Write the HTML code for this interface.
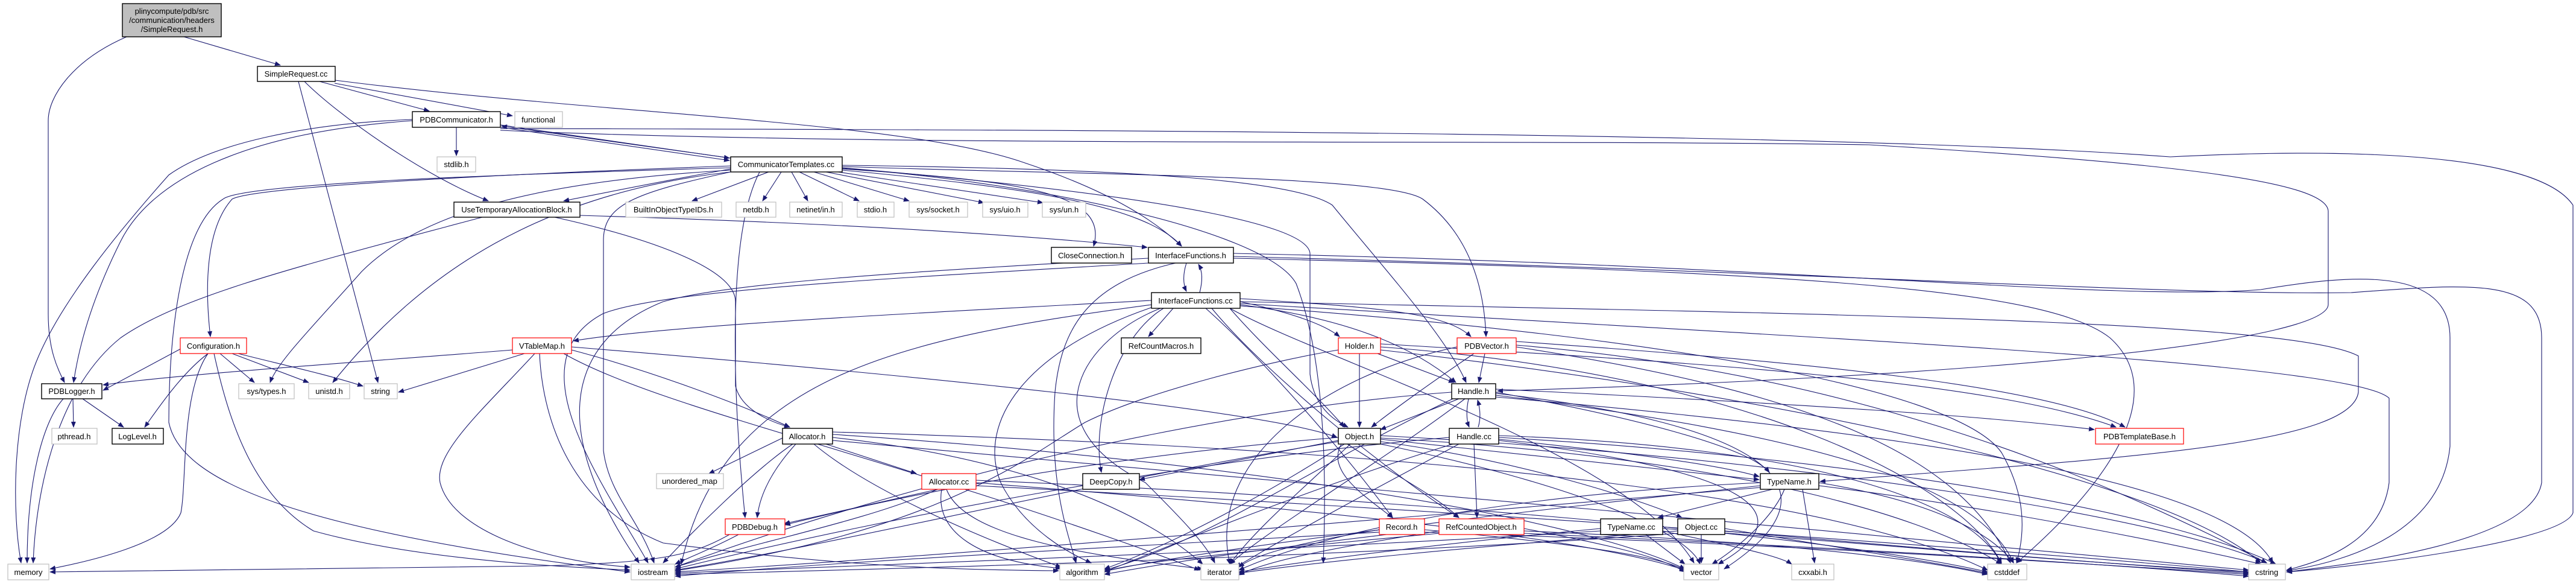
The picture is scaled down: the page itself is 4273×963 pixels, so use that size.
<!DOCTYPE html>
<html><head><meta charset="utf-8"><style>
html,body{margin:0;padding:0;background:#fff;}
svg{display:block;}
text{font-family:"Liberation Sans",sans-serif;font-size:13px;fill:#000;text-anchor:middle;}
.e{fill:none;stroke:#191970;stroke-width:1.1;marker-end:url(#a);}
.n{fill:#fff;stroke:#000;stroke-width:1.4;}
.r{fill:#fff;stroke:#ff0000;stroke-width:1.2;}
.g{fill:#fff;stroke:#bfbfbf;stroke-width:1.2;}
</style></head><body>
<svg width="4273" height="963" viewBox="0 0 4273 963" xmlns="http://www.w3.org/2000/svg">
<defs><marker id="a" markerWidth="10" markerHeight="8" refX="9" refY="4" orient="auto" markerUnits="userSpaceOnUse"><path d="M0,0 L10,4 L0,8 z" fill="#191970"/></marker></defs>
<g>
<!-- top -->
<path class="e" d="M305,61 L465,108"/>
<path class="e" d="M210,61 C120,100 80,160 80,200 L80,520 C80,580 95,610 107,634"/>
<path class="e" d="M530,135 L712,184"/>
<path class="e" d="M555,138 L850,192"/>
<path class="e" d="M495,135 L627,634"/>
<path class="e" d="M505,135 C560,190 700,290 810,333"/>
<path class="e" d="M556,133 C1000,190 1500,200 1700,270 C1850,320 1920,370 1960,408"/>
<path class="e" d="M757,211 L757,258"/>
<path class="e" d="M684,200 C400,220 250,300 200,400 C150,500 130,580 122,634"/>
<path class="e" d="M684,198 C500,205 350,240 280,290 C200,380 100,500 60,600 C20,700 20,850 35,933"/>
<path class="e" d="M830,207 L1210,262"/>
<path class="e" d="M830,211 L1210,266"/>
<path class="e" d="M1212,262 L832,209"/>
<path class="e" d="M830,213 C1500,215 3000,215 3600,260 C3800,250 4200,240 4268,340 L4268,850 C4250,900 3900,940 3793,948"/>
<path class="e" d="M830,216 C1500,245 2500,230 3100,240 C3600,270 3860,300 3862,350 L3862,505 C3860,560 3400,620 2484,648"/>
<!-- CommT -->
<path class="e" d="M1275,285 L1148,333"/>
<path class="e" d="M1296,285 L1265,333"/>
<path class="e" d="M1313,285 L1340,333"/>
<path class="e" d="M1326,285 L1425,333"/>
<path class="e" d="M1350,285 L1508,333"/>
<path class="e" d="M1370,285 L1632,336"/>
<path class="e" d="M1390,285 L1730,336"/>
<path class="e" d="M1397,280 C1700,300 1840,320 1814,408"/>
<path class="e" d="M1397,282 C1700,310 1900,340 1960,408"/>
<path class="e" d="M1212,280 C1100,300 1000,320 935,333"/>
<path class="e" d="M1212,275 C800,290 420,310 385,330 C340,380 340,480 349,558"/>
<path class="e" d="M1212,278 C800,290 400,305 370,330 C290,380 280,600 280,700 C300,800 500,880 1045,948"/>
<path class="e" d="M1212,282 C900,300 700,350 600,450 C520,540 460,600 448,634"/>
<path class="e" d="M1212,285 C900,320 700,450 552,634"/>
<path class="e" d="M1212,285 C1050,320 1000,340 1001,400 L1001,747 C1010,820 1060,860 1085,933"/>
<path class="e" d="M1397,276 C1800,290 2300,290 2360,330 C2440,390 2462,480 2465,558"/>
<path class="e" d="M1397,274 C1900,280 2150,300 2210,340 C2300,450 2400,560 2432,634"/>
<path class="e" d="M1397,278 C2000,330 2170,380 2173,420 L2173,620 C2180,680 2220,700 2236,708"/>
<path class="e" d="M1397,279 C1700,300 2100,380 2150,470 C2200,600 2200,800 2195,933"/>
<path class="e" d="M1260,285 C1200,400 1220,700 1236,858"/>
<!-- UTAB -->
<path class="e" d="M800,360 C500,440 300,490 200,560 C100,640 60,800 55,933"/>
<path class="e" d="M962,357 C1400,370 1700,390 1903,410"/>
<path class="e" d="M920,360 C1100,400 1220,450 1220,500 L1220,640 C1230,680 1280,700 1310,708"/>
<!-- IFh / IFcc -->
<path class="e" d="M1968,436 C1962,455 1962,470 1968,483"/>
<path class="e" d="M1990,485 C1995,465 1995,450 1988,438"/>
<path class="e" d="M2046,420 C3000,440 3500,500 3750,480 C3900,455 4064,440 4064,560 L4064,740 C4050,880 3900,930 3793,946"/>
<path class="e" d="M2046,425 C3000,450 3600,490 3900,485 C4100,470 4216,460 4216,560 L4216,800 C4200,900 3900,935 3793,948"/>
<path class="e" d="M2046,428 C3000,450 3400,480 3500,560 C3600,650 3500,800 3345,933"/>
<path class="e" d="M1905,428 C1500,450 1200,470 1100,500 C950,560 900,700 1060,933"/>
<path class="e" d="M1950,436 C1800,470 1760,550 1750,650 C1740,800 1770,880 1785,933"/>
<path class="e" d="M1905,436 C1500,460 1100,480 1000,520 C850,600 1000,800 1075,933"/>
<path class="e" d="M1946,511 L1905,558"/>
<path class="e" d="M1910,498 C1500,520 1100,540 951,565"/>
<path class="e" d="M2057,500 C2150,520 2200,540 2222,558"/>
<path class="e" d="M2057,495 C2300,510 2400,520 2440,558"/>
<path class="e" d="M2057,505 C2250,530 2350,580 2415,634"/>
<path class="e" d="M2040,511 C2100,580 2180,650 2230,708"/>
<path class="e" d="M1930,511 C1850,560 1810,700 1827,783"/>
<path class="e" d="M2000,511 C2100,600 2230,750 2310,858"/>
<path class="e" d="M2010,511 C2100,620 2300,780 2420,858"/>
<path class="e" d="M1925,511 C1800,560 1700,700 1900,800 C1950,850 2000,900 2015,933"/>
<path class="e" d="M1915,508 C1700,580 1620,700 1660,800 C1700,880 1780,920 1810,933"/>
<path class="e" d="M2057,500 C3000,520 3800,530 3912,590 L3912,650 C3900,740 3500,760 3019,798"/>
<path class="e" d="M2057,503 C3000,560 3900,600 3963,660 L3963,800 C3950,900 3850,930 3793,945"/>
<path class="e" d="M2057,507 C2800,560 3250,650 3320,750 C3360,820 3360,880 3345,933"/>
<path class="e" d="M1910,505 C1500,560 1200,620 1130,935"/>
<path class="e" d="M2040,511 C2200,600 2700,750 2810,933"/>
<!-- Config -->
<path class="e" d="M300,578 L171,647"/>
<path class="e" d="M345,586 C300,620 260,680 240,708"/>
<path class="e" d="M365,586 L422,634"/>
<path class="e" d="M385,586 L512,634"/>
<path class="e" d="M395,586 C470,605 540,620 602,640"/>
<path class="e" d="M345,586 C300,650 310,800 300,850 C280,900 150,930 83,943"/>
<path class="e" d="M355,586 C380,700 420,820 520,880 C700,930 950,940 1045,945"/>
<!-- VTable -->
<path class="e" d="M850,580 C600,600 300,620 171,638"/>
<path class="e" d="M870,586 L661,650"/>
<path class="e" d="M948,580 C1100,620 1250,680 1310,708"/>
<path class="e" d="M887,586 C800,680 720,750 730,800 C750,880 900,930 1045,940"/>
<path class="e" d="M895,586 C900,700 950,840 1100,900 C1400,940 1600,945 1756,946"/>
<path class="e" d="M935,586 C1100,680 1500,760 1990,945"/>
<path class="e" d="M948,575 C1500,620 2100,680 2218,725"/>
<!-- PDBLogger -->
<path class="e" d="M121,661 L122,708"/>
<path class="e" d="M137,661 L205,708"/>
<path class="e" d="M105,661 C70,700 45,800 45,933"/>
<!-- Allocator -->
<path class="e" d="M1300,725 L1176,785"/>
<path class="e" d="M1370,736 L1520,785"/>
<path class="e" d="M1320,736 C1280,780 1260,820 1256,858"/>
<path class="e" d="M1315,736 C1250,780 1150,880 1100,933"/>
<path class="e" d="M1350,736 C1450,820 1650,900 1760,940"/>
<path class="e" d="M1381,725 C1700,760 1900,850 1995,935"/>
<path class="e" d="M1381,720 C2000,760 2600,850 2795,943"/>
<path class="e" d="M1381,716 C2200,740 3000,800 3297,945"/>
<path class="e" d="M1381,730 C2000,780 3000,880 3730,945"/>
<path class="e" d="M1556,811 L1301,868"/>
<path class="e" d="M1555,811 C1450,860 1250,900 1120,940"/>
<path class="e" d="M1562,811 C1550,880 1620,930 1760,942"/>
<path class="e" d="M1570,811 C1600,890 1800,920 1995,943"/>
<path class="e" d="M1619,800 C2000,830 2600,880 2795,945"/>
<path class="e" d="M1619,796 C2200,820 3000,880 3297,948"/>
<path class="e" d="M1619,805 C2300,840 3200,900 3730,948"/>
<path class="e" d="M1225,886 C1180,910 1140,925 1120,935"/>
<path class="e" d="M1210,886 C1150,920 1100,932 900,938 L83,948"/>
<!-- Holder / PDBVector -->
<path class="e" d="M2255,586 L2255,708"/>
<path class="e" d="M2285,586 L2412,634"/>
<path class="e" d="M2290,570 C2800,600 3300,630 3510,708"/>
<path class="e" d="M2290,575 C2900,620 3250,800 3320,933"/>
<path class="e" d="M2290,580 C3000,660 3600,800 3750,933"/>
<path class="e" d="M2220,580 C2100,600 1900,650 1800,700 C1700,760 1560,880 1120,946"/>
<path class="e" d="M2463,586 L2453,634"/>
<path class="e" d="M2445,586 C2380,630 2310,680 2275,708"/>
<path class="e" d="M2515,566 C3000,600 3400,640 3525,708"/>
<path class="e" d="M2515,572 C3100,620 3500,800 3760,933"/>
<path class="e" d="M2515,575 C3000,650 3250,750 3335,933"/>
<path class="e" d="M2417,575 C2200,620 2000,760 2040,935"/>
<!-- Handle.h -->
<path class="e" d="M2436,661 C2432,680 2432,695 2437,708"/>
<path class="e" d="M2452,708 C2456,695 2456,680 2451,663"/>
<path class="e" d="M2420,661 L2290,712"/>
<path class="e" d="M2481,645 C3000,670 3300,690 3474,712"/>
<path class="e" d="M2481,650 C2700,690 2900,740 2935,783"/>
<path class="e" d="M2481,652 C2900,700 3080,800 2860,943"/>
<path class="e" d="M2481,655 C3000,720 3280,800 3340,933"/>
<path class="e" d="M2481,658 C3200,720 3700,800 3770,933"/>
<path class="e" d="M2430,661 C2300,760 2100,880 2040,935"/>
<path class="e" d="M2408,650 C2000,680 1500,800 1120,940"/>
<path class="e" d="M2410,661 C2200,760 2000,900 1832,945"/>
<!-- Handle.cc -->
<path class="e" d="M2445,736 L2450,858"/>
<path class="e" d="M2486,728 C2700,750 2850,770 2918,790"/>
<path class="e" d="M2486,722 C3000,740 3270,830 3320,935"/>
<path class="e" d="M2486,725 C3100,760 3600,850 3775,935"/>
<path class="e" d="M2486,730 C2900,780 3000,850 2850,935"/>
<path class="e" d="M2420,736 C2300,800 2150,880 2050,940"/>
<path class="e" d="M2404,725 C2000,760 1500,850 1120,943"/>
<path class="e" d="M2410,736 C2200,800 1950,900 1832,948"/>
<!-- Object.h -->
<path class="e" d="M2290,728 L2918,795"/>
<path class="e" d="M2290,732 C2500,760 2700,820 2790,858"/>
<path class="e" d="M2220,730 L1890,795"/>
<path class="e" d="M2225,736 C2200,780 2260,820 2310,858"/>
<path class="e" d="M2235,736 C2300,780 2380,820 2420,858"/>
<path class="e" d="M2220,725 C1800,760 1500,820 1302,870"/>
<path class="e" d="M2220,732 C1800,800 1400,900 1120,945"/>
<path class="e" d="M2230,736 C2100,820 1950,900 1832,943"/>
<path class="e" d="M2240,736 C2150,820 2080,880 2040,935"/>
<path class="e" d="M2290,736 C2600,800 2800,880 2820,935"/>
<path class="e" d="M2290,726 C2900,760 3200,860 3320,935"/>
<path class="e" d="M2290,722 C3000,760 3600,860 3760,933"/>
<!-- TypeName.h -->
<path class="e" d="M2940,811 L2750,858"/>
<path class="e" d="M2990,811 L3010,933"/>
<path class="e" d="M2960,811 C2940,860 2880,910 2840,935"/>
<path class="e" d="M3017,800 C3200,830 3300,880 3340,933"/>
<path class="e" d="M3017,805 C3300,840 3600,900 3750,935"/>
<path class="e" d="M2920,800 C2500,820 2200,880 2055,945"/>
<path class="e" d="M2920,805 C2500,850 2000,910 1832,947"/>
<path class="e" d="M2920,808 C2300,860 1600,920 1120,948"/>
<!-- TypeName.cc / Object.cc -->
<path class="e" d="M2730,886 L2795,935"/>
<path class="e" d="M2758,880 C2850,900 2950,920 2972,935"/>
<path class="e" d="M2758,876 C3100,900 3400,930 3730,948"/>
<path class="e" d="M2655,876 C2400,900 2200,925 2055,948"/>
<path class="e" d="M2655,880 C2200,910 1600,930 1120,950"/>
<path class="e" d="M2822,886 L2822,933"/>
<path class="e" d="M2861,876 C3000,900 3200,930 3297,950"/>
<path class="e" d="M2861,880 C3200,910 3500,935 3730,950"/>
<path class="e" d="M2783,880 C2400,910 2200,930 2055,950"/>
<path class="e" d="M2783,884 C2300,920 1600,940 1120,952"/>
<!-- Record / RCO -->
<path class="e" d="M2363,878 C2600,900 2750,920 2795,945"/>
<path class="e" d="M2363,882 C2900,900 3400,930 3730,952"/>
<path class="e" d="M2288,878 C2150,900 2080,920 2055,940"/>
<path class="e" d="M2288,882 C1800,910 1400,930 1120,955"/>
<path class="e" d="M2300,886 C2100,910 1950,930 1832,952"/>
<path class="e" d="M2528,876 C2650,900 2750,920 2795,948"/>
<path class="e" d="M2528,880 C3000,900 3200,930 3297,952"/>
<path class="e" d="M2528,884 C3100,910 3500,935 3730,955"/>
<path class="e" d="M2387,880 C2200,910 2100,930 2055,953"/>
<path class="e" d="M2387,884 C2000,920 1800,940 1832,955"/>
</g>
<g>
<rect x="203" y="6" width="164" height="55" fill="#bfbfbf" stroke="#000" stroke-width="1.4"/>
<text x="285" y="23">plinycompute/pdb/src</text><text x="285" y="38">/communication/headers</text><text x="285" y="53">/SimpleRequest.h</text>
<rect class="n" x="427" y="110" width="129" height="25"/><text x="491" y="127">SimpleRequest.cc</text>
<rect class="n" x="684" y="185" width="146" height="26"/><text x="757" y="203">PDBCommunicator.h</text>
<rect class="g" x="854" y="185" width="79" height="26"/><text x="893" y="203">functional</text>
<rect class="g" x="725" y="260" width="64" height="25"/><text x="757" y="277">stdlib.h</text>
<rect class="n" x="1212" y="260" width="185" height="25"/><text x="1304" y="277">CommunicatorTemplates.cc</text>
<rect class="n" x="753" y="335" width="209" height="25"/><text x="857" y="352">UseTemporaryAllocationBlock.h</text>
<rect class="g" x="1038" y="335" width="159" height="25"/><text x="1117" y="352">BuiltInObjectTypeIDs.h</text>
<rect class="g" x="1221" y="335" width="66" height="25"/><text x="1254" y="352">netdb.h</text>
<rect class="g" x="1310" y="335" width="87" height="25"/><text x="1353" y="352">netinet/in.h</text>
<rect class="g" x="1422" y="335" width="61" height="25"/><text x="1452" y="352">stdio.h</text>
<rect class="g" x="1508" y="335" width="97" height="25"/><text x="1556" y="352">sys/socket.h</text>
<rect class="g" x="1630" y="335" width="75" height="25"/><text x="1667" y="352">sys/uio.h</text>
<rect class="g" x="1729" y="335" width="72" height="25"/><text x="1765" y="352">sys/un.h</text>
<rect class="n" x="1744" y="410" width="133" height="26"/><text x="1810" y="428">CloseConnection.h</text>
<rect class="n" x="1905" y="410" width="141" height="26"/><text x="1975" y="428">InterfaceFunctions.h</text>
<rect class="n" x="1910" y="485" width="147" height="26"/><text x="1983" y="503">InterfaceFunctions.cc</text>
<rect class="r" x="299" y="560" width="110" height="26"/><text x="354" y="578">Configuration.h</text>
<rect class="r" x="850" y="560" width="98" height="26"/><text x="899" y="578">VTableMap.h</text>
<rect class="n" x="1860" y="560" width="132" height="26"/><text x="1926" y="578">RefCountMacros.h</text>
<rect class="r" x="2220" y="560" width="70" height="26"/><text x="2255" y="578">Holder.h</text>
<rect class="r" x="2417" y="560" width="98" height="26"/><text x="2466" y="578">PDBVector.h</text>
<rect class="n" x="69" y="636" width="100" height="25"/><text x="119" y="653">PDBLogger.h</text>
<rect class="g" x="396" y="636" width="92" height="25"/><text x="442" y="653">sys/types.h</text>
<rect class="g" x="512" y="636" width="68" height="25"/><text x="546" y="653">unistd.h</text>
<rect class="g" x="604" y="636" width="55" height="25"/><text x="631" y="653">string</text>
<rect class="n" x="2408" y="636" width="73" height="25"/><text x="2444" y="653">Handle.h</text>
<rect class="g" x="86" y="710" width="75" height="26"/><text x="123" y="728">pthread.h</text>
<rect class="n" x="186" y="710" width="85" height="26"/><text x="228" y="728">LogLevel.h</text>
<rect class="n" x="1298" y="710" width="83" height="26"/><text x="1339" y="728">Allocator.h</text>
<rect class="n" x="2220" y="710" width="70" height="26"/><text x="2255" y="728">Object.h</text>
<rect class="n" x="2404" y="710" width="82" height="26"/><text x="2445" y="728">Handle.cc</text>
<rect class="r" x="3476" y="710" width="146" height="26"/><text x="3549" y="728">PDBTemplateBase.h</text>
<rect class="g" x="1089" y="785" width="111" height="25"/><text x="1144" y="802">unordered_map</text>
<rect class="r" x="1529" y="785" width="90" height="26"/><text x="1574" y="803">Allocator.cc</text>
<rect class="n" x="1796" y="785" width="94" height="26"/><text x="1843" y="803">DeepCopy.h</text>
<rect class="n" x="2920" y="785" width="97" height="26"/><text x="2968" y="803">TypeName.h</text>
<rect class="r" x="1203" y="860" width="99" height="26"/><text x="1252" y="878">PDBDebug.h</text>
<rect class="r" x="2288" y="860" width="75" height="26"/><text x="2325" y="878">Record.h</text>
<rect class="r" x="2387" y="860" width="141" height="26"/><text x="2457" y="878">RefCountedObject.h</text>
<rect class="n" x="2655" y="860" width="103" height="26"/><text x="2706" y="878">TypeName.cc</text>
<rect class="n" x="2783" y="860" width="78" height="26"/><text x="2822" y="878">Object.cc</text>
<rect class="g" x="13" y="935" width="68" height="26"/><text x="47" y="953">memory</text>
<rect class="g" x="1047" y="935" width="72" height="26"/><text x="1083" y="953">iostream</text>
<rect class="g" x="1758" y="935" width="74" height="26"/><text x="1795" y="953">algorithm</text>
<rect class="g" x="1992" y="935" width="63" height="26"/><text x="2023" y="953">iterator</text>
<rect class="g" x="2793" y="935" width="58" height="26"/><text x="2822" y="953">vector</text>
<rect class="g" x="2972" y="935" width="70" height="26"/><text x="3007" y="953">cxxabi.h</text>
<rect class="g" x="3297" y="935" width="65" height="26"/><text x="3329" y="953">cstddef</text>
<rect class="g" x="3730" y="935" width="61" height="26"/><text x="3760" y="953">cstring</text>
</g>
</svg>
</body></html>
